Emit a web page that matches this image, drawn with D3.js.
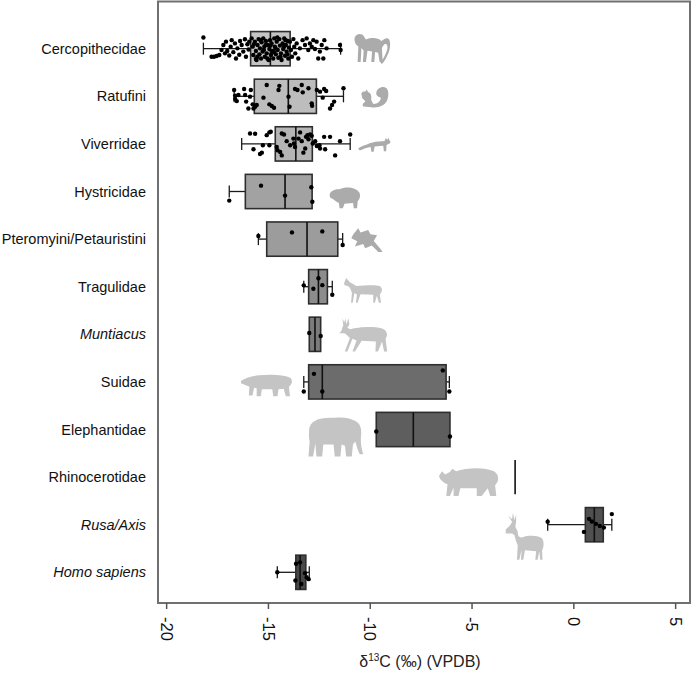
<!DOCTYPE html>
<html>
<head>
<meta charset="utf-8">
<script src="https://cdn.jsdelivr.net/npm/d3@7"></script>
<style>
  body { margin: 0; background: #fff; }
  svg { display: block; font-family: Arial, "Liberation Sans", sans-serif; }
</style>
</head>
<body>
<div id="chart"></div>
<script>
// Taxa, top to bottom
const taxa = ['Cercopithecidae', 'Ratufini', 'Viverridae', 'Hystricidae', 'Pteromyini/Petauristini',
  'Tragulidae', 'Muntiacus', 'Suidae', 'Elephantidae', 'Rhinocerotidae', 'Rusa/Axis', 'Homo sapiens'];
const italicTaxa = ['Muntiacus', 'Rusa/Axis', 'Homo sapiens'];

// Box statistics (d13C, per mil VPDB)
const q1          = [-15.85, -15.67, -14.64, -16.11, -15.06, -13.00, -12.97, -13.00, -9.68, -2.86, 0.59, -13.63];
const medians     = [-14.88, -14.00, -13.63, -14.16, -13.08, -12.52, -12.69, -12.33, -7.86, -2.86, 1.03, -13.42];
const q3          = [-13.91, -12.62, -12.82, -12.83, -11.57, -12.08, -12.41, -6.25, -6.06, -2.86, 1.47, -13.14];
const whiskerLow  = [-18.17, -16.66, -16.29, -16.90, -15.47, -13.24, -12.97, -13.24, -9.68, -2.86, -1.26, -14.54];
const whiskerHigh = [-11.43, -11.29, -10.96, -12.83, -11.33, -11.84, -12.41, -6.09, -6.06, -2.86, 1.89, -12.97];

// Individual samples: [value, vertical jitter within box (-1..1)]
const cercoPts = [
  [-18.17,-0.65],[-17.77,0.47],[-17.65,0.47],[-17.52,0.43],[-17.39,0.37],[-17.28,0.08],[-17.19,-0.22],
  [-17.11,0.27],[-17.06,-0.41],[-17.0,0.13],[-16.9,0.4],[-16.83,-0.12],[-16.78,-0.5],[-16.7,0.2],
  [-16.62,-0.31],[-16.57,0.57],[-16.5,-0.02],[-16.41,0.35],[-16.37,-0.45],[-16.29,-0.22],[-16.21,0.17],
  [-16.13,-0.55],[-16.08,0.47],[-16.01,-0.26],[-15.95,0.05],[-15.92,-0.41],
  [-15.8,-0.6],[-15.75,-0.12],[-15.72,0.37],[-15.64,-0.41],[-15.59,0.13],[-15.56,0.66],[-15.51,-0.22],
  [-15.46,-0.56],[-15.42,0.33],[-15.39,-0.02],[-15.34,0.57],[-15.31,-0.37],[-15.26,0.17],[-15.23,-0.6],
  [-15.18,-0.12],[-15.15,0.47],[-15.1,-0.45],[-15.06,0.27],[-15.02,-0.22],[-14.97,0.66],[-14.93,0.02],
  [-14.9,-0.5],[-14.85,0.37],[-14.82,-0.31],[-14.77,0.13],[-14.74,0.57],[-14.69,-0.6],[-14.66,-0.12],
  [-14.61,0.33],[-14.57,-0.41],[-14.52,0.08],[-14.49,0.53],[-14.44,-0.56],[-14.41,-0.18],[-14.36,0.27],
  [-14.33,0.66],[-14.28,-0.31],[-14.25,0.02],[-14.2,-0.6],[-14.16,0.41],[-14.12,-0.22],[-14.08,0.17],
  [-14.03,-0.45],[-14.0,0.57],[-13.97,-0.06],[-15.69,-0.26],[-15.52,0.47],[-15.36,-0.5],[-15.2,0.08],
  [-15.03,0.57],[-14.87,-0.18],[-14.7,0.2],[-14.54,-0.65],[-14.38,0.47],[-14.21,-0.12],[-14.05,0.33],
  [-15.59,0.6],[-15.11,-0.22],[-14.62,-0.02],[-14.13,-0.5],
  [-13.92,-0.41],[-13.87,0.08],[-13.82,0.47],[-13.75,-0.56],[-13.71,-0.12],[-13.66,0.27],[-13.59,-0.31],
  [-13.51,0.57],[-13.43,-0.02],[-13.3,-0.5],[-13.18,-0.22],[-13.1,-0.6],[-13.02,0.08],[-12.94,-0.31],
  [-12.85,-0.12],[-12.77,-0.5],[-12.69,0.02],[-12.61,-0.41],[-12.53,0.57],[-12.45,0.17],[-12.36,-0.22],
  [-12.28,0.57],[-12.23,-0.5],[-12.12,-0.02],[-11.46,-0.22],[-11.43,0.08]
];
const ratufiniPts = [
  [-16.66,-0.37],[-16.61,-0.04],[-16.61,0.16],[-16.53,0.28],[-16.45,-0.08],[-16.17,-0.43],[-16.12,-0.08],
  [-16.07,0.31],[-15.96,0.71],[-15.88,0.02],[-15.84,-0.37],[-15.75,0.47],[-15.71,0.71],[-15.63,0.61],
  [-15.55,0.51],[-15.22,0.08],[-15.06,-0.66],[-14.93,0.47],[-14.81,0.57],[-14.7,0.67],[-14.48,-0.37],
  [-14.44,-0.61],[-13.99,0.02],[-13.94,0.61],[-13.67,-0.43],[-13.55,-0.37],[-13.34,-0.66],[-13.29,-0.23],
  [-13.01,-0.47],[-12.85,0.41],[-12.83,0.55],[-12.6,-0.37],[-12.44,-0.27],[-12.31,0.08],[-12.24,-0.43],
  [-12.14,-0.31],[-11.95,0.71],[-11.85,0.51],[-11.75,0.31],[-11.29,-0.47]
];
const viverridPts = [
  [-15.88,-0.61],[-15.63,-0.59],[-15.71,0.31],[-15.39,0.59],[-15.3,0.51],[-15.25,0.08],[-15.06,-0.51],
  [-14.93,-0.67],[-14.86,-0.71],[-14.93,0.08],[-14.57,0.18],[-14.53,0.37],[-14.4,0.47],[-14.32,0.67],
  [-14.32,-0.61],[-14.21,-0.55],[-14.08,-0.16],[-13.91,0.08],[-13.75,-0.31],[-13.72,-0.02],[-13.67,0.18],
  [-13.5,-0.31],[-13.42,-0.67],[-13.34,-0.16],[-13.26,0.51],[-13.17,0.27],[-13.13,-0.41],[-13.06,-0.51],
  [-13.01,-0.27],[-12.93,-0.55],[-12.85,-0.47],[-12.8,-0.02],[-12.68,-0.16],[-12.6,0.12],[-12.47,0.08],
  [-12.44,0.27],[-12.24,-0.41],[-12.19,0.31],[-11.95,-0.41],[-11.7,0.67],[-11.46,-0.16],[-10.96,-0.55]
];
const hystricidPts = [[-15.34,-0.34],[-14.16,0.24],[-12.87,-0.25],[-12.82,0.6],[-16.9,0.53]];
const pteromyiniPts = [[-13.82,-0.39],[-12.33,-0.45],[-15.47,-0.18],[-11.33,0.34]];
const tragulidPts = [[-13.24,-0.08],[-12.77,0.12],[-12.52,-0.49],[-12.33,-0.09],[-11.84,0.47]];
const muntiacusPts = [[-12.97,-0.08],[-12.41,0.1]];
const suidPts = [[-12.74,-0.47],[-13.24,0.56],[-12.33,0.56],[-6.41,-0.67],[-6.09,0.56]];
const elephantPts = [[-9.68,0.12],[-6.06,0.41]];
const rhinoPts = [];
const rusaPts = [[-1.26,-0.17],[0.77,-0.34],[0.91,-0.19],[1.11,-0.05],[1.3,0.07],[1.5,0.17],[0.52,0.42],[1.89,-0.62]];
const homoPts = [[-14.54,0.0],[-13.62,-0.5],[-13.42,-0.58],[-13.65,0.48],[-13.36,0.68],[-13.1,0.29],[-13.0,0.4],[-13.18,0.05]];
const samples = [cercoPts, ratufiniPts, viverridPts, hystricidPts, pteromyiniPts, tragulidPts,
  muntiacusPts, suidPts, elephantPts, rhinoPts, rusaPts, homoPts];

const tickValues = [-20, -15, -10, -5, 0, 5];

// Styles
const boxFills = ['#c4c4c4', '#bdbdbd', '#b5b5b5', '#a2a2a2', '#9c9c9c', '#8c8c8c',
  '#7c7c7c', '#6c6c6c', '#5e5e5e', '#555555', '#505050', '#484848'];

// Silhouettes (rough outlines in a 100x100 box)
const shapes = {
  monkey: 'M4,30 C2,18 14,8 24,14 C30,18 30,24 34,28 C48,22 66,22 74,32 C82,28 90,18 96,30 C100,44 96,62 90,74 C86,84 82,92 76,98 L72,94 C80,84 86,70 90,56 C92,44 88,38 82,42 C80,44 78,48 76,52 L78,92 L70,92 L66,66 L58,64 L56,92 L48,92 L50,62 L38,60 L34,92 L26,92 L28,60 L22,52 L20,92 L12,92 L14,48 C8,44 5,38 4,30 Z',
  squirrel: 'M15,55 C10,45 18,38 26,40 L30,33 L34,42 C44,46 46,58 44,70 L50,84 C60,86 74,76 74,62 C66,60 58,54 60,44 C62,28 80,18 92,28 C100,38 99,60 92,76 C84,92 64,100 44,96 L20,94 C14,88 20,80 26,76 L20,68 C16,65 15,60 15,55 Z',
  civet: 'M0,78 C10,66 25,60 35,52 C50,42 70,42 80,40 L84,26 L88,34 L93,26 L95,38 C100,44 99,52 92,56 L86,60 L85,92 L78,92 L76,64 L50,68 L47,94 L40,94 L38,70 C28,72 15,80 5,88 Z',
  porcupine: 'M5,45 C5,30 20,20 35,22 C55,10 85,15 95,35 C100,50 95,62 90,68 L88,95 L78,95 L76,75 L50,78 L45,95 L35,95 L33,75 C25,72 18,62 12,58 C6,56 5,50 5,45 Z',
  flyer: 'M10,30 L25,8 L32,24 L55,14 L62,30 L82,34 L72,55 L92,84 L99,96 L86,96 L66,72 L46,82 L40,66 L15,76 L22,56 L4,45 Z',
  mouseDeer: 'M5,30 L10,12 L16,22 L20,28 C28,32 30,38 35,40 C55,38 80,35 92,40 C100,48 98,62 92,70 L95,100 L90,100 L85,75 L80,100 L76,100 L76,72 L45,70 L38,100 L34,100 L36,70 L30,66 L26,100 L22,100 L24,65 C22,55 20,45 14,40 L6,38 Z',
  muntjac: 'M8,38 L12,20 L10,0 L14,12 L16,0 L18,18 L22,0 L24,18 L20,28 L26,32 C40,26 70,22 88,30 C98,35 100,50 95,60 L98,98 L92,98 L88,68 L80,98 L75,98 L76,68 L48,66 L35,98 L30,98 L38,65 L30,60 L20,98 L15,98 L25,58 C20,52 18,46 14,44 L4,44 Z',
  boar: 'M0,40 C8,30 20,22 35,20 C55,15 85,18 95,30 C100,40 98,55 92,62 L94,98 L86,98 L82,70 L72,72 L70,98 L62,98 L60,72 L40,72 L38,98 L30,98 L30,68 L25,66 L22,95 L15,95 L16,62 C10,58 5,52 0,50 Z',
  elephant: 'M5,40 C5,15 25,8 50,10 C65,8 75,10 82,15 C95,20 98,35 96,55 C95,70 98,85 100,95 L94,95 C90,85 88,72 86,65 L82,72 L80,100 L70,100 L68,75 L62,72 L60,100 L50,100 L48,72 L30,72 L28,100 L18,100 L16,70 L12,100 L4,100 L6,65 C4,55 5,48 5,40 Z',
  rhino: 'M0,35 L5,20 L10,30 L18,22 L22,12 L28,20 C45,8 75,5 90,20 C100,32 98,55 92,65 L94,100 L84,100 L80,75 L70,100 L62,100 L62,75 L35,75 L32,100 L24,100 L24,72 L18,100 L12,100 L14,62 C8,58 4,50 2,45 Z',
  deer: 'M4,36 L14,28 L20,20 L10,6 L20,14 L22,0 L26,16 L30,4 L30,20 L28,30 L34,40 C34,50 38,54 46,52 C62,48 82,48 94,54 C100,60 100,72 95,80 L96,100 L90,100 L88,82 L84,100 L78,100 L80,82 L52,80 L48,100 L42,100 L44,78 L38,100 L32,100 L34,70 C30,62 28,55 26,48 L20,44 L4,44 Z'
};
// where each silhouette sits: row, left edge (axis units), top offset / size in px
const iconSpots = [
  {row: 0, shape: 'monkey', x0: -10.82, dy: -19, w: 38, h: 35, fill: '#ababab'},
  {row: 1, shape: 'squirrel', x0: -10.62, dy: -16, w: 32, h: 28, fill: '#ababab'},
  {row: 2, shape: 'civet', x0: -10.57, dy: -11, w: 33, h: 20, fill: '#ababab'},
  {row: 3, shape: 'porcupine', x0: -12.05, dy: -8, w: 33, h: 26, fill: '#ababab'},
  {row: 4, shape: 'flyer', x0: -10.97, dy: -13, w: 33, h: 27, fill: '#ababab'},
  {row: 5, shape: 'mouseDeer', x0: -11.36, dy: -12, w: 41, h: 28, fill: '#c4c4c4'},
  {row: 6, shape: 'muntjac', x0: -11.6, dy: -16, w: 51, h: 34, fill: '#c4c4c4'},
  {row: 7, shape: 'boar', x0: -16.32, dy: -12, w: 52, h: 27, fill: '#c4c4c4'},
  {row: 8, shape: 'elephant', x0: -13.12, dy: -16, w: 57, h: 43, fill: '#c4c4c4'},
  {row: 9, shape: 'rhino', x0: -6.6, dy: -12, w: 61, h: 31, fill: '#c4c4c4'},
  {row: 10, shape: 'deer', x0: -3.4, dy: -12, w: 40, h: 47, fill: '#c4c4c4'}
];

const width = 692, height = 674;
const plot = {left: 158, right: 690, top: 1.5, bottom: 603};

const svg = d3.select('#chart').append('svg')
  .attr('width', width)
  .attr('height', height);

const x = d3.scaleLinear()
  .domain([-20.4, 5.73])
  .range([plot.left, plot.right]);

const y = d3.scalePoint()
  .domain(taxa)
  .range([48.7, 572.3]);

const boxH = y.step() * 0.72;

// Silhouettes behind everything
svg.append('g').selectAll('path')
  .data(iconSpots)
  .enter().append('path')
  .attr('d', d => shapes[d.shape])
  .attr('fill', d => d.fill)
  .attr('transform', d => `translate(${x(d.x0)},${y(taxa[d.row]) + d.dy}) scale(${d.w / 100},${d.h / 100})`);

// Frame
svg.append('rect')
  .attr('x', plot.left)
  .attr('y', plot.top)
  .attr('width', plot.right - plot.left)
  .attr('height', plot.bottom - plot.top)
  .attr('fill', 'none')
  .attr('stroke', '#707070')
  .attr('stroke-width', 2);

// Boxes
const rows = taxa.map((t, i) => ({
  taxon: t, q1: q1[i], med: medians[i], q3: q3[i], lo: whiskerLow[i], hi: whiskerHigh[i],
  fill: boxFills[i], pts: samples[i]
}));

const g = svg.append('g').selectAll('g')
  .data(rows)
  .enter().append('g')
  .attr('transform', d => `translate(0,${y(d.taxon)})`);

// whiskers
g.each(function(d) {
  const sel = d3.select(this);
  const ends = [];
  if (d.lo < d.q1) ends.push([d.lo, d.q1]);
  if (d.hi > d.q3) ends.push([d.q3, d.hi]);
  ends.forEach(([a, b]) => {
    sel.append('line')
      .attr('x1', x(a)).attr('x2', x(b))
      .attr('y1', 0).attr('y2', 0)
      .attr('stroke', '#1a1a1a').attr('stroke-width', 1.3);
  });
  [d.lo < d.q1 ? d.lo : null, d.hi > d.q3 ? d.hi : null].forEach(v => {
    if (v === null) return;
    sel.append('line')
      .attr('x1', x(v)).attr('x2', x(v))
      .attr('y1', -6).attr('y2', 6)
      .attr('stroke', '#1a1a1a').attr('stroke-width', 1.3);
  });
});

g.append('rect')
  .attr('x', d => x(d.q1))
  .attr('width', d => x(d.q3) - x(d.q1))
  .attr('y', -boxH / 2)
  .attr('height', boxH)
  .attr('fill', d => d.fill)
  .attr('stroke', d => d.q3 > d.q1 ? '#2e2e2e' : '#555')
  .attr('stroke-width', 1.6);

g.append('line')
  .attr('x1', d => x(d.med)).attr('x2', d => x(d.med))
  .attr('y1', -boxH / 2).attr('y2', boxH / 2)
  .attr('stroke', '#111')
  .attr('stroke-width', 1.6);

// sample points
g.selectAll('circle')
  .data(d => d.pts)
  .enter().append('circle')
  .attr('cx', p => x(p[0]))
  .attr('cy', p => p[1] * boxH / 2)
  .attr('r', 2.2)
  .attr('fill', '#000');

// Taxon labels
svg.append('g').selectAll('text')
  .data(taxa)
  .enter().append('text')
  .attr('x', 146)
  .attr('y', d => y(d))
  .attr('dy', '0.35em')
  .attr('text-anchor', 'end')
  .attr('font-size', 14.5)
  .attr('font-style', d => italicTaxa.includes(d) ? 'italic' : 'normal')
  .attr('fill', '#111')
  .text(d => d);

// X axis
const xAxis = svg.append('g')
  .attr('transform', `translate(0,${plot.bottom})`)
  .call(d3.axisBottom(x).tickValues(tickValues).tickSize(6).tickFormat(d => String(d)));
xAxis.select('.domain').remove();
xAxis.selectAll('.tick line').attr('stroke', '#555').attr('stroke-width', 1.5);
xAxis.selectAll('.tick text')
  .attr('transform', 'rotate(90)')
  .attr('x', 14)
  .attr('y', 0)
  .attr('dy', '0.35em')
  .attr('text-anchor', 'start')
  .attr('font-size', 16.5)
  .attr('font-family', 'Arial, "Liberation Sans", sans-serif')
  .attr('fill', '#111');

// Axis title
const title = svg.append('text')
  .attr('x', (plot.left + plot.right) / 2 - 4)
  .attr('y', 667)
  .attr('text-anchor', 'middle')
  .attr('font-size', 16)
  .attr('fill', '#222');
title.append('tspan').text('δ');
title.append('tspan').attr('font-size', 10).attr('dy', -6).text('13');
title.append('tspan').attr('dy', 6).text('C (‰) (VPDB)');
</script>
</body>
</html>
